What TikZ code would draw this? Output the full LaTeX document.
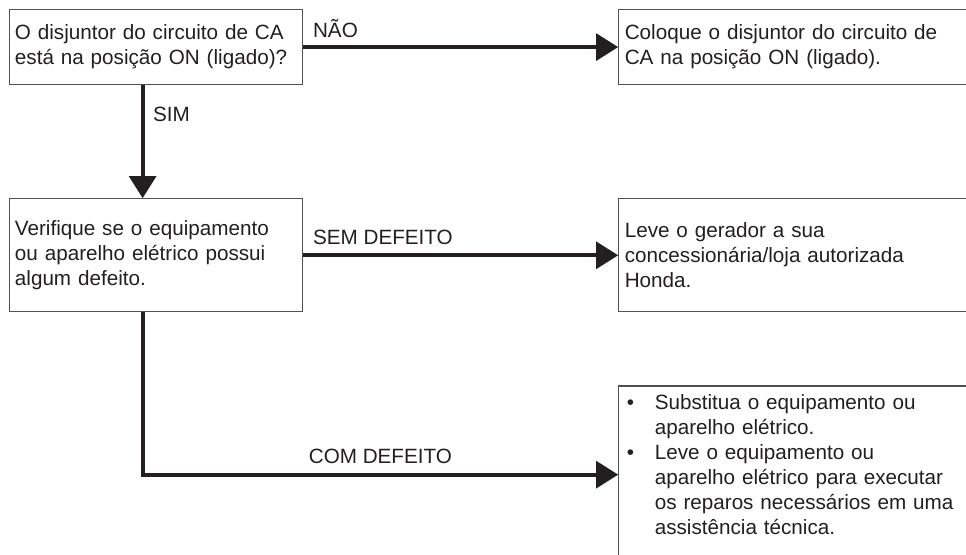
\documentclass[tikz,border=0pt]{standalone}
\usepackage{fontspec}
\setmainfont{Liberation Sans}
\usetikzlibrary{arrows.meta,positioning}
\definecolor{ink}{HTML}{231F20}
\definecolor{rim}{HTML}{505050}

\begin{document}
\begin{tikzpicture}[
  x=0.75pt,y=-0.75pt,
  node distance=84.75pt and 236.25pt,
  ask/.style={draw=rim,line width=.9pt,text=ink,text width=211.75pt,
    inner xsep=4pt,align=left,font=\fontsize{15.5}{18.7}\selectfont},
  act/.style={ask,text width=265pt,inner xsep=4.5pt},
  tag/.style={text=ink,inner sep=0pt,font=\fontsize{15.5}{17}\selectfont},
  link/.style={-{Triangle[length=16.5pt,width=20pt]},line width=2.8pt,draw=ink}]
\useasboundingbox (0,0) rectangle (966,555);
\clip (0,0) rectangle (966,555);
\node[ask,minimum height=56.25pt,anchor=north west] (breaker) at (9,9)
  {O disjuntor do circuito de CA\\está na posição ON (ligado)?};
\node[ask,minimum height=84.75pt,below=of breaker] (check)
  {Verifique se o equipamento\\ou aparelho elétrico possui\\algum defeito.};
\node[act,minimum height=56.25pt,right=of breaker] (switchon)
  {Coloque o disjuntor do circuito de\\CA na posição ON (ligado).};
\node[act,minimum height=84.75pt,right=of check] (dealer)
  {Leve o gerador a sua\\concessionária/loja autorizada\\Honda.};
\node[act,inner ysep=4.5pt,text height=13pt,text depth=111pt,
  below=54.75pt of dealer] (repair)
  {\hspace*{1.5pt}\makebox[21pt][l]{\textbullet}Substitua o equipamento ou\\
   \hspace*{22.5pt}aparelho elétrico.\\
   \hspace*{1.5pt}\makebox[21pt][l]{\textbullet}Leve o equipamento ou\\
   \hspace*{22.5pt}aparelho elétrico para executar\\
   \hspace*{22.5pt}os reparos necessários em uma\\
   \hspace*{22.5pt}assistência técnica.};
\draw[link] (breaker) -- (switchon)
  node[tag,pos=0,anchor=south west,xshift=6pt,yshift=5.5pt] {NÃO};
\draw[link] ([xshift=-10.1pt]breaker.south) -- ([xshift=-10.1pt]check.north)
  node[tag,pos=0,anchor=north west,xshift=6.5pt,yshift=-15pt] {SIM};
\draw[link] (check) -- (dealer)
  node[tag,pos=0,anchor=south west,xshift=6pt,yshift=6.5pt] {SEM DEFEITO};
\draw[link] ([xshift=-10.1pt]check.south) |- (repair.west)
  node[tag,pos=.75,above=6.5pt] {COM DEFEITO};
\end{tikzpicture}
\end{document}
